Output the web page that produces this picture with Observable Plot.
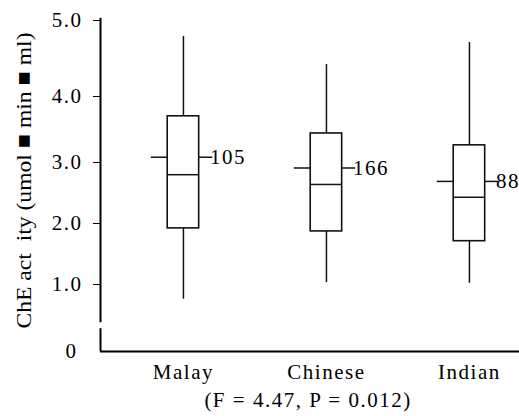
<!DOCTYPE html>
<html>
<head>
<meta charset="utf-8">
<script src="https://cdn.jsdelivr.net/npm/d3@7"></script>
<script src="https://cdn.jsdelivr.net/npm/@observablehq/plot@0.6"></script>
<style>
  body { margin: 0; background: #fff; }
  svg text { letter-spacing: 1.5px; }
</style>
</head>
<body>
<div id="chart"></div>
<script>
// ---- data ----
const categories = ["Malay", "Chinese", "Indian"];
const counts = [105, 166, 88];
const whiskerLow = [0.78, 1.03, 1.02];
const q1 = [1.92, 1.87, 1.71];
const median = [2.80, 2.64, 2.43];
const q3 = [3.70, 3.44, 3.26];
const whiskerHigh = [4.79, 4.42, 4.71];
const mean = [3.08, 2.91, 2.69];
const yTicks = [1, 2, 3, 4, 5];
const yTitle = "ChE act\u00a0\u00a0ity (umol \u25A0 min \u25A0 ml)";
const caption = "(F = 4.47, P = 0.012)";

const rows = categories.map((c, i) => ({
  i, cat: c, n: counts[i], lo: whiskerLow[i], q1: q1[i], med: median[i],
  q3: q3[i], hi: whiskerHigh[i], mean: mean[i]
}));

const xMin = -0.58, xMax = 2.35;
const bw = 0.11;       // half box width (x units)
const meanOut = 0.225; // mean tick outer extent left
const meanOutR = 0.205;
const ink = "#111";

const chart = Plot.plot({
  width: 519,
  height: 416,
  marginLeft: 100,
  marginRight: 0,
  marginTop: 9,
  marginBottom: 65,
  style: { fontFamily: "'Liberation Serif', 'Times New Roman', serif", fontSize: "21px", color: "#000", background: "#fff" },
  x: { type: "linear", domain: [xMin, xMax] },
  y: { type: "linear", domain: [0, 1, 2, 3, 4, 5], range: [351, 284, 223, 162, 96, 20] },
  marks: [
    // broken y axis line + bottom axis line
    Plot.ruleX([xMin], { y1: 0.43, y2: 5.03, stroke: "#000", strokeWidth: 2 }),
    Plot.ruleX([xMin], { y1: 0, y2: 0.34, stroke: "#000", strokeWidth: 2 }),
    Plot.ruleY([0], { stroke: "#000", strokeWidth: 2 }),
    Plot.axisY({ ticks: yTicks, tickFormat: d3.format(".1f"), tickSize: 7, tickPadding: 11, label: null, stroke: "#000", fill: "#000" }),
    Plot.axisY({ ticks: [0], tickFormat: d => String(d), tickSize: 0, tickPadding: 23, label: null, fill: "#000" }),
    Plot.axisX({ ticks: [0, 1, 2], tickFormat: i => categories[i], tickSize: 0, tickPadding: 13, label: null, fill: "#000" }),
    // whiskers
    Plot.ruleX(rows, { x: "i", y1: "lo", y2: "q1", stroke: ink, strokeWidth: 1.5 }),
    Plot.ruleX(rows, { x: "i", y1: "q3", y2: "hi", stroke: ink, strokeWidth: 1.5 }),
    // boxes
    Plot.rect(rows, { x1: d => d.i - bw, x2: d => d.i + bw, y1: "q1", y2: "q3", fill: "white", stroke: ink, strokeWidth: 1.6 }),
    Plot.ruleY(rows, { y: "med", x1: d => d.i - bw, x2: d => d.i + bw, stroke: ink, strokeWidth: 1.5 }),
    // mean ticks outside the box
    Plot.ruleY(rows, { y: "mean", x1: d => d.i - meanOut, x2: d => d.i - bw, stroke: ink, strokeWidth: 1.5 }),
    Plot.ruleY(rows, { y: "mean", x1: d => d.i + bw, x2: d => d.i + meanOutR, stroke: ink, strokeWidth: 1.5 }),
    // n labels
    Plot.text(rows, { x: d => d.i + 0.185, y: "mean", text: d => String(d.n), textAnchor: "start", fill: "#000" }),
    // y title
    Plot.text([yTitle], { frameAnchor: "left", textAnchor: "middle", lineAnchor: "middle", rotate: -90, dx: -77, fontSize: 22, fill: "#000", className: "ytitle" }),
    // caption
    Plot.text([caption], { frameAnchor: "bottom", textAnchor: "middle", lineAnchor: "middle", dy: 49, dx: -2, fill: "#000" })
  ]
});
document.getElementById("chart").appendChild(chart);
// stretch the y title to the length it has in the reference
chart.querySelectorAll("text").forEach(t => {
  if (t.textContent === yTitle) {
    t.setAttribute("textLength", 296);
    t.setAttribute("lengthAdjust", "spacingAndGlyphs");
    t.style.letterSpacing = "0px";
  }
});
</script>
</body>
</html>
